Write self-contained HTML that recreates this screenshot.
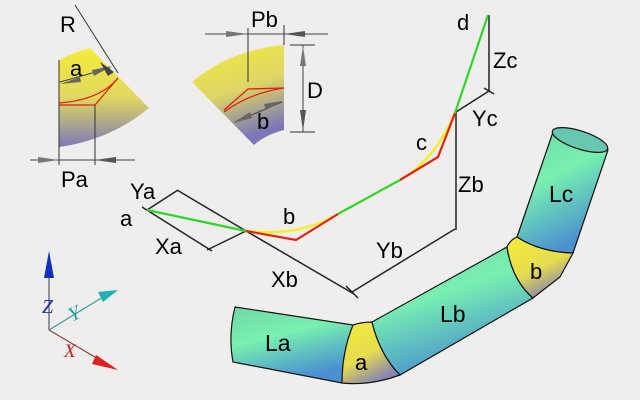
<!DOCTYPE html>
<html><head><style>
body{margin:0;background:#efeeec;}
svg{display:block;font-family:"Liberation Sans",sans-serif;}
</style></head><body>
<svg width="640" height="400" viewBox="0 0 640 400" xmlns="http://www.w3.org/2000/svg">
<defs>
<linearGradient id="ys" x1="0" y1="0" x2="0" y2="1">
<stop offset="0" stop-color="#f5ec3a"/><stop offset="0.5" stop-color="#e0d860"/><stop offset="1" stop-color="#7c78b8"/>
</linearGradient>
<linearGradient id="ys2" x1="0" y1="0" x2="0.3" y2="1">
<stop offset="0" stop-color="#f5ec3a"/><stop offset="0.55" stop-color="#ddd566"/><stop offset="1" stop-color="#7c78b8"/>
</linearGradient>
<linearGradient id="cy" x1="0" y1="0" x2="0.4" y2="1">
<stop offset="0" stop-color="#6fd8a8"/><stop offset="0.45" stop-color="#78f0b0"/><stop offset="1" stop-color="#4a90d0"/>
</linearGradient>
<linearGradient id="ya" x1="0" y1="0" x2="0.5" y2="1">
<stop offset="0" stop-color="#f5ec3a"/><stop offset="0.6" stop-color="#e6dc50"/><stop offset="1" stop-color="#8a86b0"/>
</linearGradient>
</defs>
<rect width="640" height="400" fill="#efeeec"/>

<!-- left sector -->
<path d="M59,60 Q75,52 90,48 L149,108 Q110,140 59,147 Z" fill="url(#ys)"/>
<line x1="75" y1="5" x2="118" y2="73" stroke="#333" stroke-width="1"/>
<path d="M59,103 Q100,100 118,78" stroke="#e02010" fill="none" stroke-width="1.3"/>
<path d="M59,105 L95,105 L118,78" stroke="#e02010" fill="none" stroke-width="1.3"/>
<line x1="59" y1="60" x2="59" y2="165" stroke="#333"/>
<line x1="95" y1="105" x2="95" y2="165" stroke="#333"/>
<line x1="60" y1="82" x2="110" y2="68" stroke="#444"/>
<polygon points="60,84 80,77 81,82" fill="#666"/>
<polygon points="112,66 92,70 94,76" fill="#666"/>
<polygon points="100,62 114,72 108,76" fill="#444"/>
<line x1="30" y1="160" x2="135" y2="160" stroke="#444"/>
<polygon points="59,160 38,157 38,163" fill="#777"/>
<polygon points="95,160 116,157 116,163" fill="#555"/>
<text x="60" y="32" font-size="22">R</text>
<text x="70" y="76" font-size="22">a</text>
<text x="61" y="187" font-size="22">Pa</text>

<!-- right sector -->
<path d="M192,82 Q230,50 284,45 L284,130 Q265,135 254,145 Z" fill="url(#ys2)"/>
<path d="M224,110 L248,89 L284,88" stroke="#e02010" fill="none" stroke-width="1.3"/>
<path d="M224,112 Q250,93 284,88" stroke="#e02010" fill="none" stroke-width="1.3"/>
<line x1="248" y1="28" x2="248" y2="82" stroke="#333"/>
<line x1="284" y1="25" x2="284" y2="45" stroke="#333"/>
<line x1="205" y1="34" x2="328" y2="34" stroke="#444"/>
<polygon points="248,34 226,31 226,37" fill="#777"/>
<polygon points="284,34 305,31 305,37" fill="#555"/>
<line x1="290" y1="45" x2="315" y2="45" stroke="#333"/>
<line x1="290" y1="132" x2="315" y2="132" stroke="#333"/>
<line x1="303" y1="45" x2="303" y2="132" stroke="#444"/>
<polygon points="303,46 300,66 306,66" fill="#777"/>
<polygon points="303,131 300,110 306,110" fill="#555"/>
<line x1="235" y1="122" x2="282" y2="102" stroke="#444"/>
<polygon points="233,123 250,112 252,118" fill="#666"/>
<polygon points="283,101 264,104 266,110" fill="#666"/>
<text x="251" y="27" font-size="22">Pb</text>
<text x="307" y="98" font-size="22">D</text>
<text x="257" y="129" font-size="22">b</text>

<!-- dimensions -->
<g stroke="#222" stroke-width="1.5" fill="none">
<line x1="142" y1="207" x2="212" y2="251"/>
<line x1="147" y1="210" x2="178" y2="190"/>
<line x1="177" y1="190" x2="246" y2="231"/>
<line x1="246" y1="231" x2="207" y2="250"/>
<line x1="246" y1="231" x2="354" y2="294"/>
<line x1="352" y1="292" x2="455" y2="229"/>
<line x1="346" y1="286" x2="358" y2="298"/>
<line x1="456" y1="112" x2="456" y2="230"/>
<line x1="456" y1="112" x2="489" y2="91"/>
<line x1="489" y1="15" x2="489" y2="91"/>
<line x1="484" y1="88" x2="494" y2="94"/>
</g>
<!-- colored path -->
<line x1="147" y1="210" x2="246" y2="231" stroke="#2ed62e" stroke-width="2.2"/>
<path d="M246,231 Q300,237 338,214" stroke="#f4f020" fill="none" stroke-width="2.4"/>
<path d="M246,231 L296,240 L338,214" stroke="#e52010" fill="none" stroke-width="2.2"/>
<line x1="338" y1="214" x2="400" y2="180" stroke="#2ed62e" stroke-width="2.2"/>
<path d="M400,180 Q435,160 455,113" stroke="#f4f020" fill="none" stroke-width="2.4"/>
<path d="M400,180 L438,157 L455,113" stroke="#e52010" fill="none" stroke-width="2.2"/>
<line x1="455" y1="113" x2="488" y2="15" stroke="#2ed62e" stroke-width="2.2"/>
<text x="120" y="226" font-size="22">a</text>
<text x="130" y="199" font-size="22">Ya</text>
<text x="155" y="254" font-size="22">Xa</text>
<text x="283" y="224" font-size="22">b</text>
<text x="271" y="287" font-size="22">Xb</text>
<text x="376" y="258" font-size="22">Yb</text>
<text x="458" y="192" font-size="22">Zb</text>
<text x="416" y="150" font-size="22">c</text>
<text x="472" y="126" font-size="22">Yc</text>
<text x="493" y="68" font-size="22">Zc</text>
<text x="457" y="30" font-size="22">d</text>

<!-- pipe -->
<g stroke="#111" stroke-width="1.2">
<path d="M235,307 L353,325 L342,383 L233,362 Q228,335 235,307 Z" fill="url(#cy)"/>
<path d="M353,325 Q362,322 372,322 Q380,355 400,375 Q370,386 342,383 Q342,352 353,325 Z" fill="url(#ya)"/>
<path d="M372,322 L507,247 Q512,280 533,298 L400,375 Q380,355 372,322 Z" fill="url(#cy)"/>
<path d="M507,247 Q510,240 517,237 Q540,252 573,253 L560,277 L533,298 Q512,280 507,247 Z" fill="url(#ya)"/>
<path d="M517,237 L553,132 L608,150 L573,253 Q540,252 517,237 Z" fill="url(#cy)"/>
<ellipse cx="580" cy="140" rx="29" ry="9" transform="rotate(18 580 140)" fill="#66c8b0"/>
</g>
<text x="265" y="351" font-size="23">La</text>
<text x="355" y="370" font-size="22">a</text>
<text x="440" y="322" font-size="23">Lb</text>
<text x="530" y="279" font-size="22">b</text>
<text x="549" y="202" font-size="23">Lc</text>

<!-- axes -->
<line x1="49" y1="270" x2="49" y2="330" stroke="#556" stroke-width="1.2"/>
<polygon points="49,251 44,278 54,278" fill="#1030c0"/>
<line x1="49" y1="330" x2="103" y2="297" stroke="#3a9a9a" stroke-width="1.2"/>
<polygon points="118,290 98,292 103,302" fill="#20b0b0"/>
<line x1="49" y1="330" x2="100" y2="360" stroke="#884444" stroke-width="1.2"/>
<polygon points="118,370 96,355 92,364" fill="#e02020"/>
<text x="42" y="313" font-size="20" font-style="italic" fill="#2030a0" font-family="Liberation Serif,serif">Z</text>
<text x="68" y="320" font-size="20" font-style="italic" fill="#20a0a0" font-family="Liberation Serif,serif" transform="rotate(-25 74 312)">Y</text>
<text x="64" y="357" font-size="19" font-style="italic" fill="#c02020" font-family="Liberation Serif,serif">X</text>
</svg>
</body></html>
